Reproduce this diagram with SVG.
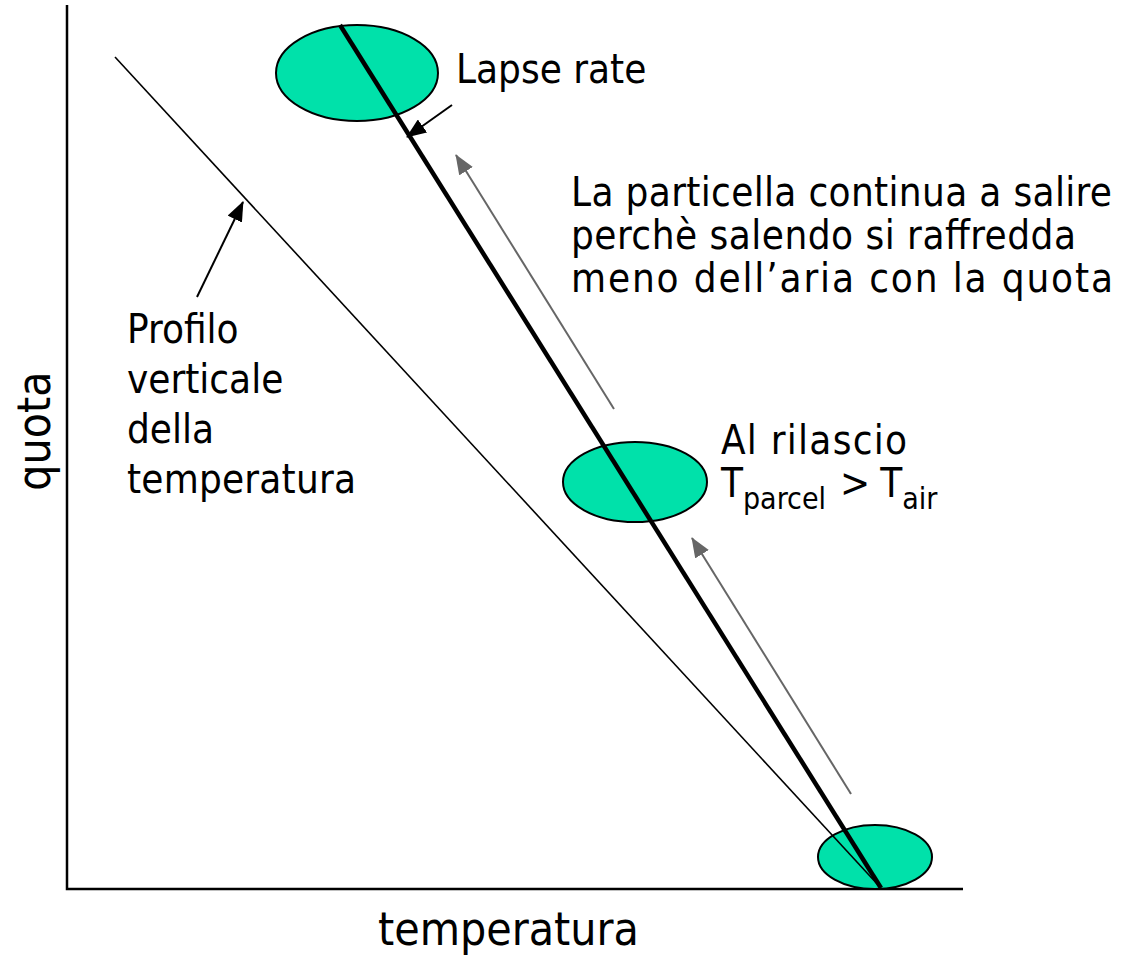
<svg xmlns="http://www.w3.org/2000/svg" width="1124" height="961" viewBox="0 0 1124 961">
<style>
.t{font-family:"DejaVu Sans Condensed","DejaVu Sans",sans-serif;font-stretch:condensed;fill:#000}
.parcel{fill:#00E1AA;stroke:#000;stroke-width:2}
.axis{stroke:#000;stroke-width:2.5;fill:none}
</style>
<defs>
<marker id="ab" markerUnits="userSpaceOnUse" markerWidth="20" markerHeight="16" refX="19" refY="8" orient="auto"><path d="M0,0 L20,8 L0,16 z" fill="#000"/></marker>
<marker id="ag" markerUnits="userSpaceOnUse" markerWidth="20" markerHeight="16" refX="19" refY="8" orient="auto"><path d="M0,0 L20,8 L0,16 z" fill="#666"/></marker>
</defs>
<rect width="1124" height="961" fill="#fff"/>
<g id="axes">
<path class="axis" d="M67,5 L67,889 L963,889"/>
</g>
<g id="parcel-top"><ellipse class="parcel" cx="357" cy="73" rx="81" ry="48"/></g>
<g id="parcel-mid"><ellipse class="parcel" cx="635" cy="482" rx="72" ry="40"/></g>
<g id="parcel-bottom"><ellipse class="parcel" cx="875" cy="857" rx="57" ry="32"/></g>
<g id="connectors">
<line x1="115" y1="57" x2="880" y2="887" stroke="#000" stroke-width="1.6"/>
<line x1="340" y1="25" x2="881" y2="888" stroke="#000" stroke-width="4.5"/>
<line x1="452" y1="105" x2="407" y2="137" stroke="#000" stroke-width="2" marker-end="url(#ab)"/>
<line x1="197" y1="297" x2="243" y2="202" stroke="#000" stroke-width="2" marker-end="url(#ab)"/>
<line x1="614" y1="409" x2="456" y2="155" stroke="#666" stroke-width="2" marker-end="url(#ag)"/>
<line x1="851" y1="794" x2="692" y2="538" stroke="#666" stroke-width="2" marker-end="url(#ag)"/>
</g>
<g id="labels">
<text class="t" x="456" y="83" font-size="40">Lapse rate</text>
<text class="t" font-size="40"><tspan x="571" y="206" textLength="541">La particella continua a salire</tspan><tspan x="571" y="249" textLength="505">perchè salendo si raffredda</tspan><tspan x="571" y="292" textLength="542">meno dell’aria con la quota</tspan></text>
<text class="t" font-size="40"><tspan x="127" y="343">Profilo</tspan><tspan x="127" y="393">verticale</tspan><tspan x="127" y="443">della</tspan><tspan x="127" y="493" textLength="229">temperatura</tspan></text>
<text class="t" x="721" y="454" font-size="40" textLength="186">Al rilascio</text>
<text class="t" x="721" y="497" font-size="40">T<tspan font-size="30" dy="12">parcel</tspan><tspan dy="-12" dx="14">&gt;</tspan><tspan dx="10">T</tspan><tspan font-size="30" dy="12">air</tspan></text>
<text class="t" x="378" y="945" font-size="46">temperatura</text>
<text class="t" font-size="46" text-anchor="middle" transform="translate(50,431) rotate(-90)">quota</text>
</g>
</svg>
